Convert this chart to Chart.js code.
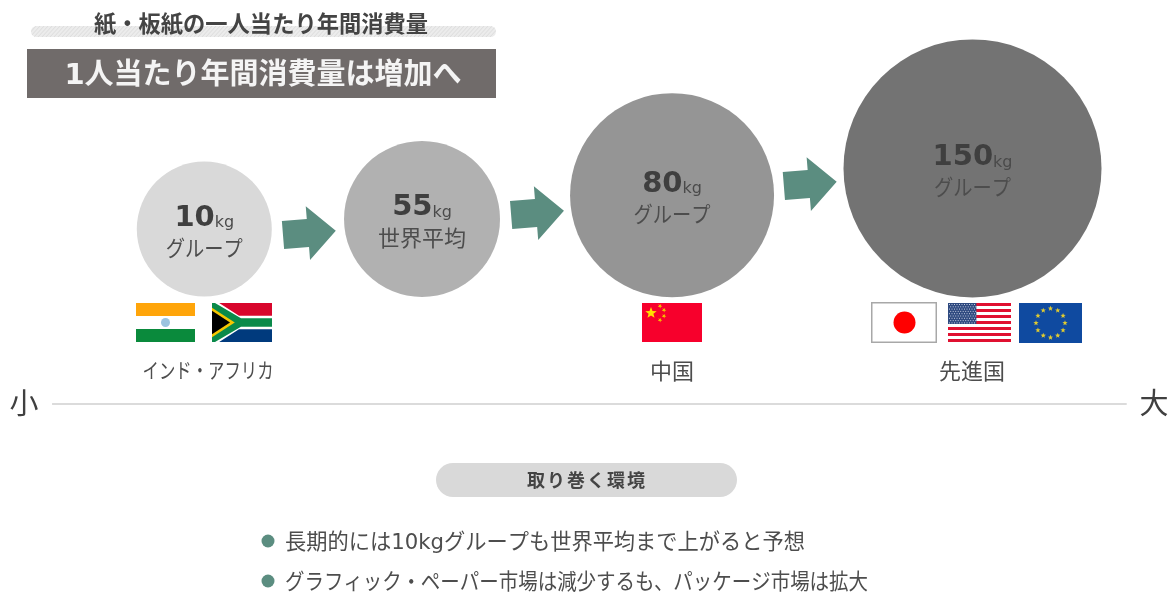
<!DOCTYPE html>
<html lang="ja">
<head>
<meta charset="utf-8">
<title>紙・板紙の一人当たり年間消費量</title>
<script src="https://cdn.jsdelivr.net/npm/chart.js@4"></script>
<style>
  html, body { margin: 0; padding: 0; background: #fff; }
  canvas { display: block; }
</style>
</head>
<body>
<canvas id="paperChart" width="1170" height="595"></canvas>
<script>
// Values
const consumptionKg = [10, 55, 80, 150];
const bubbleNames = ["グループ", "世界平均", "グループ", "グループ"];
const regionNames = ["インド・アフリカ", "中国", "先進国"];
const chartTitle = "紙・板紙の一人当たり年間消費量";
const headline = "1人当たり年間消費量は増加へ";
const sectionTitle = "取り巻く環境";
const notes = [
  "長期的には10kgグループも世界平均まで上がると予想",
  "グラフィック・ペーパー市場は減少するも、パッケージ市場は拡大"
];
const axisEndLabels = ["小", "大"];

// Layout, in percent of the hidden axes
const bubbleX = [17.46, 36.07, 57.44, 83.12];
const bubbleY = [38.5, 36.8, 32.8, 28.3];
const bubbleRadius = [67.5, 78, 102, 129];
const bubbleColors = ["#d9d9d9", "#b1b1b1", "#959595", "#737373"];
const axisLineX = [4.45, 96.3];
const axisLineY = 67.9;

const JP = '"DejaVu Sans", "Noto Sans CJK JP"';
const LATIN = '"DejaVu Sans"';
const TEAL = "#5b8d80";

// DejaVu's metrics put middle-aligned text a little high, hence the +2
function label(ctx, text, x, y, font, color, align, maxWidth) {
  ctx.font = font;
  ctx.fillStyle = color;
  ctx.textAlign = align || "center";
  ctx.textBaseline = "middle";
  if (maxWidth) ctx.fillText(text, x, y + 2, maxWidth);
  else ctx.fillText(text, x, y + 2);
}

function poly(ctx, points, color) {
  ctx.fillStyle = color;
  ctx.beginPath();
  points.forEach((p, i) => (i ? ctx.lineTo(p[0], p[1]) : ctx.moveTo(p[0], p[1])));
  ctx.closePath();
  ctx.fill();
}

function star(ctx, cx, cy, r, color, turn) {
  const pts = [];
  for (let i = 0; i < 10; i++) {
    const a = -Math.PI / 2 + (turn || 0) + (i * Math.PI) / 5;
    const d = i % 2 ? r * 0.42 : r;
    pts.push([cx + d * Math.cos(a), cy + d * Math.sin(a)]);
  }
  poly(ctx, pts, color);
}

// Flags
function flagIndia(ctx, x, y, w, h) {
  ctx.fillStyle = "#ffa50a"; ctx.fillRect(x, y, w, h / 3);
  ctx.fillStyle = "#ffffff"; ctx.fillRect(x, y + h / 3, w, h / 3);
  ctx.fillStyle = "#0a8a3c"; ctx.fillRect(x, y + (2 * h) / 3, w, h / 3);
  ctx.fillStyle = "#9cc4e0";
  ctx.beginPath(); ctx.arc(x + w / 2, y + h / 2, 4.5, 0, Math.PI * 2); ctx.fill();
}

function flagSouthAfrica(ctx, x, y, w, h) {
  const mx = x + w * 0.45, my = y + h / 2;
  ctx.fillStyle = "#d8062c"; ctx.fillRect(x, y, w, h / 2);
  ctx.fillStyle = "#003a7d"; ctx.fillRect(x, my, w, h / 2);
  poly(ctx, [[x, y], [x + w * 0.12, y], [mx, my - h * 0.17], [x + w, my - h * 0.17], [x + w, my + h * 0.17], [mx, my + h * 0.17], [x + w * 0.12, y + h], [x, y + h]], "#ffffff");
  poly(ctx, [[x, y], [x + w * 0.05, y], [mx + 2, my - h * 0.11], [x + w, my - h * 0.11], [x + w, my + h * 0.11], [mx + 2, my + h * 0.11], [x + w * 0.05, y + h], [x, y + h]], "#0a8a4a");
  poly(ctx, [[x, y + h * 0.12], [x + w * 0.38, my], [x, y + h * 0.88]], "#f7c600");
  poly(ctx, [[x, y + h * 0.2], [x + w * 0.3, my], [x, y + h * 0.8]], "#000000");
}

function flagChina(ctx, x, y, w, h) {
  ctx.fillStyle = "#f7002c"; ctx.fillRect(x, y, w, h);
  star(ctx, x + 9, y + 10, 6, "#ffe000");
  [[18, 3], [22, 7], [22, 13], [18, 17]].forEach(p => star(ctx, x + p[0], y + p[1], 2.4, "#f2c000", 0.5));
}

function flagJapan(ctx, x, y, w, h) {
  ctx.fillStyle = "#ffffff"; ctx.fillRect(x, y, w, h);
  ctx.strokeStyle = "#a8a8a8"; ctx.lineWidth = 1.5;
  ctx.strokeRect(x + 0.75, y + 0.75, w - 1.5, h - 1.5);
  ctx.fillStyle = "#ff0000";
  ctx.beginPath(); ctx.arc(x + w / 2 + 0.5, y + h / 2, 11, 0, Math.PI * 2); ctx.fill();
}

function flagUS(ctx, x, y, w, h) {
  const s = h / 13;
  ctx.fillStyle = "#ffffff"; ctx.fillRect(x, y, w, h);
  ctx.fillStyle = "#e01030";
  for (let i = 0; i < 13; i += 2) ctx.fillRect(x, y + i * s, w, s);
  ctx.fillStyle = "#2f4a80"; ctx.fillRect(x, y, w * 0.45, s * 7);
  ctx.fillStyle = "#c4cde0";
  for (let r = 0; r < 9; r++) {
    for (let c = 0; c < 11; c++) {
      ctx.fillRect(x + 1 + c * 2.5 + (r % 2) * 1.2, y + 1 + r * 2.3, 1, 1);
    }
  }
}

function flagEU(ctx, x, y, w, h) {
  ctx.fillStyle = "#0f4aa0"; ctx.fillRect(x, y, w, h);
  const cx = x + w / 2, cy = y + h / 2;
  for (let i = 0; i < 12; i++) {
    const a = (i * Math.PI) / 6;
    star(ctx, cx + 14.5 * Math.cos(a), cy + 14.5 * Math.sin(a), 2.8, "#e0cb30");
  }
}

// Block arrow between two neighbouring bubbles, tilted slightly upward
function arrow(ctx, cx, cy) {
  ctx.save();
  ctx.translate(cx, cy);
  ctx.rotate(-0.08);
  poly(ctx, [[-26, -14], [-1, -14], [-1, -27], [27, 0], [-1, 27], [-1, 14], [-26, 14]], TEAL);
  ctx.restore();
}

function roundedRect(ctx, x, y, w, h, r) {
  ctx.beginPath();
  ctx.roundRect(x, y, w, h, r);
}

const artwork = {
  id: "artwork",
  beforeDatasetsDraw(chart) {
    const ctx = chart.ctx;
    ctx.save();

    // hatched band behind the title
    roundedRect(ctx, 31, 26, 465, 11, 5.5);
    ctx.fillStyle = "#ececec";
    ctx.fill();
    ctx.save();
    ctx.clip();
    ctx.strokeStyle = "#dcdcdc";
    ctx.lineWidth = 1;
    for (let x = 25; x < 510; x += 4) {
      ctx.beginPath();
      ctx.moveTo(x, 38);
      ctx.lineTo(x + 12, 25);
      ctx.stroke();
    }
    ctx.restore();

    // headline bar
    ctx.fillStyle = "#706b6a";
    ctx.fillRect(27, 49, 469, 49);

    // pill above the notes
    roundedRect(ctx, 436, 463, 301, 34, 17);
    ctx.fillStyle = "#d9d9d9";
    ctx.fill();

    ctx.restore();
  },
  afterDatasetsDraw(chart) {
    const ctx = chart.ctx;
    const bubbles = chart.getDatasetMeta(0).data;
    ctx.save();

    label(ctx, chartTitle, 261, 24, `bold 23px ${JP}`, "#444444", "center", 334);
    label(ctx, headline, 263, 74, `bold 29px ${JP}`, "#f4f4f4", "center", 398);

    // labels inside the bubbles
    consumptionKg.forEach((kg, i) => {
      const el = bubbles[i];
      const num = String(kg);
      ctx.font = `bold 29px ${LATIN}`;
      const numW = ctx.measureText(num).width;
      ctx.font = `16px ${LATIN}`;
      const unitW = ctx.measureText("kg").width;
      const left = el.x - (numW + unitW) / 2;
      label(ctx, num, left, el.y - 13, `bold 29px ${LATIN}`, "#3f3f3f", "left");
      label(ctx, "kg", left + numW, el.y - 8, `16px ${LATIN}`, "#4a4a4a", "left");
      const nameW = bubbleNames[i] === "世界平均" ? 95 : 77;
      label(ctx, bubbleNames[i], el.x, el.y + 19, `22px ${JP}`, "#4d4d4d", "center", nameW);
    });

    // arrows sit in the gap between one bubble's edge and the next
    const arrowY = [233, 213, 184];
    for (let i = 0; i < 3; i++) {
      const gapMid = (bubbles[i].x + bubbleRadius[i] + bubbles[i + 1].x - bubbleRadius[i + 1]) / 2;
      arrow(ctx, gapMid + 1 + (i === 1 ? 1 : 0), arrowY[i]);
    }

    flagIndia(ctx, 136, 303, 59, 39);
    flagSouthAfrica(ctx, 212, 303, 60, 39);
    flagChina(ctx, 642, 303, 60, 39);
    flagJapan(ctx, 871, 302, 66, 41);
    flagUS(ctx, 948, 303, 63, 39);
    flagEU(ctx, 1019, 303, 63, 40);

    label(ctx, regionNames[0], 208, 371, `21px ${JP}`, "#4d4d4d", "center", 131);
    label(ctx, regionNames[1], 672, 371, `22px ${JP}`, "#4d4d4d");
    label(ctx, regionNames[2], 972, 371, `22px ${JP}`, "#4d4d4d");

    label(ctx, axisEndLabels[0], 24, 404, `29px ${JP}`, "#404040");
    label(ctx, axisEndLabels[1], 1154, 404, `29px ${JP}`, "#404040");

    ctx.letterSpacing = "2px";
    label(ctx, sectionTitle, 587, 480, `bold 18px ${JP}`, "#444444");
    ctx.letterSpacing = "0px";

    // notes with their round markers
    [541, 581].forEach((y, i) => {
      ctx.fillStyle = TEAL;
      ctx.beginPath();
      ctx.arc(268, y, 6.5, 0, Math.PI * 2);
      ctx.fill();
      label(ctx, notes[i], 285, y, `22px ${JP}`, "#4d4d4d", "left", i ? 583 : 520);
    });

    ctx.restore();
  }
};

new Chart(document.getElementById("paperChart"), {
  type: "bubble",
  data: {
    datasets: [
      {
        label: "1人当たり年間消費量",
        data: consumptionKg.map((kg, i) => ({ x: bubbleX[i], y: bubbleY[i], r: bubbleRadius[i], kg })),
        backgroundColor: bubbleColors,
        borderWidth: 0,
        hoverRadius: 0,
        clip: false
      },
      {
        type: "line",
        label: "axis",
        data: axisLineX.map(x => ({ x, y: axisLineY })),
        borderColor: "#cfcfcf",
        borderWidth: 1.5,
        pointRadius: 0
      }
    ]
  },
  options: {
    responsive: false,
    animation: false,
    layout: { padding: 0, autoPadding: false },
    events: [],
    plugins: { legend: { display: false }, tooltip: { enabled: false } },
    scales: {
      x: { type: "linear", display: false, min: 0, max: 100 },
      y: { type: "linear", display: false, min: 0, max: 100, reverse: true }
    }
  },
  plugins: [artwork]
});
</script>
</body>
</html>
